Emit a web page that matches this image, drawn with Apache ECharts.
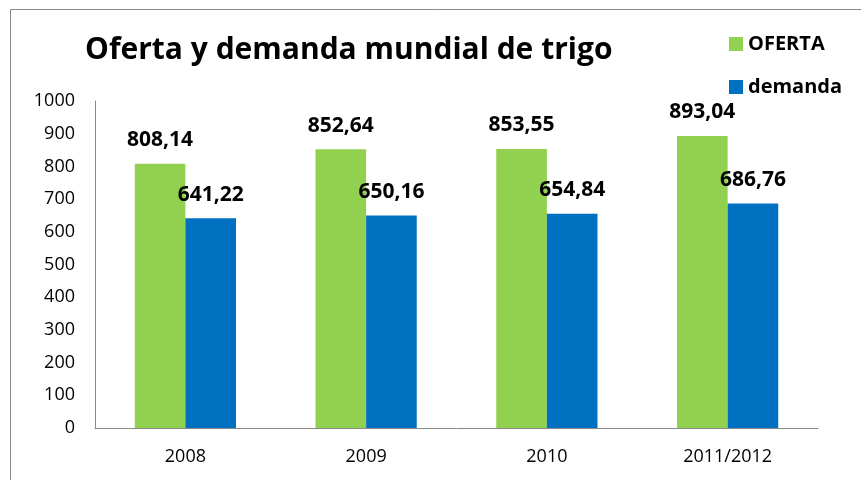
<!DOCTYPE html>
<html>
<head>
<meta charset="utf-8">
<script src="https://cdn.jsdelivr.net/npm/echarts@6/dist/echarts.min.js"></script>
<style>
    html, body { margin: 0; padding: 0; background: #fff; }
    #chart { width: 861px; height: 480px; }
</style>
</head>
<body>
<div id="chart"></div>
<script>
const categories = ['2008', '2009', '2010', '2011/2012'];
const oferta = [808.14, 852.64, 853.55, 893.04];
const demanda = [641.22, 650.16, 654.84, 686.76];

const fontFamily = 'Open Sans, Noto Sans, sans-serif';

// etiquetas con coma decimal
const fmt = (p) => p.value.toFixed(2).replace('.', ',');

const chart = echarts.init(document.getElementById('chart'));

const barLabel = {
    show: true,
    position: 'top',
    distance: 13,
    formatter: fmt,
    fontFamily: fontFamily,
    fontSize: 21,
    fontWeight: 'bold',
    color: '#000'
};

const option = {
    backgroundColor: '#fff',
    animation: false,
    textStyle: { fontFamily: fontFamily },
    title: {
        text: 'Oferta y demanda mundial de trigo',
        left: 80,
        top: 30,
        textStyle: {
            fontFamily: fontFamily,
            fontSize: 30,
            fontWeight: 'bold',
            color: '#000'
        }
    },
    legend: {
        orient: 'vertical',
        left: 724,
        top: 29,
        itemWidth: 14,
        itemHeight: 14,
        itemGap: 23,
        itemStyle: { borderWidth: 0 },
        icon: 'rect',
        textStyle: {
            fontFamily: fontFamily,
            fontSize: 20,
            fontWeight: 'bold',
            color: '#000'
        }
    },
    graphic: [
        {
            type: 'polyline',
            shape: { points: [[10.5, 480], [10.5, 9.5], [861, 9.5]] },
            style: { stroke: '#888', lineWidth: 1, fill: null }
        }
    ],
    grid: {
        left: 95,
        right: 43,
        top: 101,
        bottom: 52
    },
    xAxis: {
        type: 'category',
        data: categories,
        axisTick: { show: false },
        axisLine: { lineStyle: { color: '#888' } },
        axisLabel: {
            fontFamily: fontFamily,
            fontSize: 18,
            color: '#000',
            margin: 20
        }
    },
    yAxis: {
        type: 'value',
        min: 0,
        max: 1000,
        interval: 100,
        splitLine: { show: false },
        axisTick: { show: false },
        axisLine: { show: true, lineStyle: { color: '#888' } },
        axisLabel: {
            fontFamily: fontFamily,
            fontSize: 18,
            color: '#000',
            margin: 20,
            formatter: (v) => String(v)
        }
    },
    series: [
        {
            name: 'OFERTA',
            type: 'bar',
            data: oferta,
            barGap: '0%',
            barCategoryGap: '44%',
            itemStyle: { color: '#92D050' },
            label: barLabel
        },
        {
            name: 'demanda',
            type: 'bar',
            data: demanda,
            itemStyle: { color: '#0070C0' },
            label: barLabel
        }
    ]
};

chart.setOption(option);
</script>
</body>
</html>
